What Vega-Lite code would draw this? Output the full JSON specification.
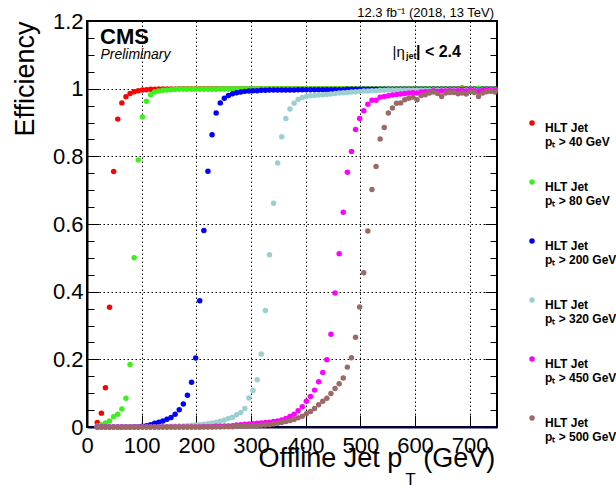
{
"$schema":"https://vega.github.io/schema/vega-lite/v6.json",
"width":410,"height":406,
"autosize":{"type":"none"},
"padding":{"left":87,"top":21,"right":119,"bottom":58},
"background":"white",
"config":{"view":{"stroke":"black","strokeWidth":2},"font":"Liberation Sans"},
"datasets":{"pts":[
{"s":"40","x":18.75,"y":0.013},{"s":"40","x":26.25,"y":0.041},{"s":"40","x":33.75,"y":0.116},{"s":"40","x":41.25,"y":0.354},{"s":"40","x":48.75,"y":0.755},{"s":"40","x":56.25,"y":0.91},{"s":"40","x":63.75,"y":0.958},{"s":"40","x":71.25,"y":0.976},{"s":"40","x":78.75,"y":0.986},{"s":"40","x":86.25,"y":0.991},{"s":"40","x":93.75,"y":0.994},{"s":"40","x":101.25,"y":0.996},{"s":"40","x":108.75,"y":0.997},{"s":"40","x":116.25,"y":0.998},{"s":"40","x":123.75,"y":0.998},{"s":"40","x":131.25,"y":0.999},{"s":"40","x":138.75,"y":0.999},{"s":"40","x":146.25,"y":0.999},{"s":"40","x":153.75,"y":0.999},{"s":"40","x":161.25,"y":0.999},{"s":"40","x":168.75,"y":1},{"s":"40","x":176.25,"y":1},{"s":"40","x":183.75,"y":1},{"s":"40","x":191.25,"y":1},{"s":"40","x":198.75,"y":1},{"s":"40","x":206.25,"y":1},{"s":"40","x":213.75,"y":1},{"s":"40","x":221.25,"y":1},{"s":"40","x":228.75,"y":1},{"s":"40","x":236.25,"y":1},{"s":"40","x":243.75,"y":1},{"s":"40","x":251.25,"y":1},{"s":"40","x":258.75,"y":1},{"s":"40","x":266.25,"y":1},{"s":"40","x":273.75,"y":1},{"s":"40","x":281.25,"y":1},{"s":"40","x":288.75,"y":1},{"s":"40","x":296.25,"y":1},{"s":"40","x":303.75,"y":1},{"s":"40","x":311.25,"y":1},{"s":"40","x":318.75,"y":1},{"s":"40","x":326.25,"y":1},{"s":"40","x":333.75,"y":1},{"s":"40","x":341.25,"y":1},{"s":"40","x":348.75,"y":1},{"s":"40","x":356.25,"y":1},{"s":"40","x":363.75,"y":1},{"s":"40","x":371.25,"y":1},{"s":"40","x":378.75,"y":1},{"s":"40","x":386.25,"y":1},{"s":"40","x":393.75,"y":1},{"s":"40","x":401.25,"y":1},{"s":"40","x":408.75,"y":1},{"s":"40","x":416.25,"y":1},{"s":"40","x":423.75,"y":1},{"s":"40","x":431.25,"y":1},{"s":"40","x":438.75,"y":1},{"s":"40","x":446.25,"y":1},{"s":"40","x":453.75,"y":1},{"s":"40","x":461.25,"y":1},{"s":"40","x":468.75,"y":1},{"s":"40","x":476.25,"y":1},{"s":"40","x":483.75,"y":1},{"s":"40","x":491.25,"y":1},{"s":"40","x":498.75,"y":1},{"s":"40","x":506.25,"y":1},{"s":"40","x":513.75,"y":1},{"s":"40","x":521.25,"y":1},{"s":"40","x":528.75,"y":1},{"s":"40","x":536.25,"y":1},{"s":"40","x":543.75,"y":1},{"s":"40","x":551.25,"y":1},{"s":"40","x":558.75,"y":1},{"s":"40","x":566.25,"y":1},{"s":"40","x":573.75,"y":1},{"s":"40","x":581.25,"y":1},{"s":"40","x":588.75,"y":1},{"s":"40","x":596.25,"y":1},{"s":"40","x":603.75,"y":1},{"s":"40","x":611.25,"y":1},{"s":"40","x":618.75,"y":1},{"s":"40","x":626.25,"y":1},{"s":"40","x":633.75,"y":1},{"s":"40","x":641.25,"y":1},{"s":"40","x":648.75,"y":1},{"s":"40","x":656.25,"y":1},{"s":"40","x":663.75,"y":1},{"s":"40","x":671.25,"y":1},{"s":"40","x":678.75,"y":1},{"s":"40","x":686.25,"y":1.002},{"s":"40","x":693.75,"y":1},{"s":"40","x":701.25,"y":1},{"s":"40","x":708.75,"y":1},{"s":"40","x":716.25,"y":1},{"s":"40","x":723.75,"y":1},{"s":"40","x":731.25,"y":1},{"s":"40","x":738.75,"y":1},{"s":"40","x":746.25,"y":1},
{"s":"80","x":18.75,"y":0.003},{"s":"80","x":26.25,"y":0.007},{"s":"80","x":33.75,"y":0.012},{"s":"80","x":41.25,"y":0.018},{"s":"80","x":48.75,"y":0.03},{"s":"80","x":56.25,"y":0.038},{"s":"80","x":63.75,"y":0.053},{"s":"80","x":71.25,"y":0.085},{"s":"80","x":78.75,"y":0.185},{"s":"80","x":86.25,"y":0.5},{"s":"80","x":93.75,"y":0.789},{"s":"80","x":101.25,"y":0.916},{"s":"80","x":108.75,"y":0.963},{"s":"80","x":116.25,"y":0.982},{"s":"80","x":123.75,"y":0.99},{"s":"80","x":131.25,"y":0.993},{"s":"80","x":138.75,"y":0.995},{"s":"80","x":146.25,"y":0.996},{"s":"80","x":153.75,"y":0.997},{"s":"80","x":161.25,"y":0.998},{"s":"80","x":168.75,"y":0.999},{"s":"80","x":176.25,"y":0.999},{"s":"80","x":183.75,"y":0.999},{"s":"80","x":191.25,"y":0.999},{"s":"80","x":198.75,"y":0.999},{"s":"80","x":206.25,"y":0.999},{"s":"80","x":213.75,"y":0.999},{"s":"80","x":221.25,"y":0.999},{"s":"80","x":228.75,"y":0.999},{"s":"80","x":236.25,"y":0.999},{"s":"80","x":243.75,"y":1},{"s":"80","x":251.25,"y":1},{"s":"80","x":258.75,"y":1},{"s":"80","x":266.25,"y":1},{"s":"80","x":273.75,"y":1},{"s":"80","x":281.25,"y":1},{"s":"80","x":288.75,"y":1},{"s":"80","x":296.25,"y":1},{"s":"80","x":303.75,"y":1},{"s":"80","x":311.25,"y":1},{"s":"80","x":318.75,"y":1},{"s":"80","x":326.25,"y":1},{"s":"80","x":333.75,"y":1},{"s":"80","x":341.25,"y":1},{"s":"80","x":348.75,"y":1},{"s":"80","x":356.25,"y":1},{"s":"80","x":363.75,"y":1},{"s":"80","x":371.25,"y":1},{"s":"80","x":378.75,"y":1},{"s":"80","x":386.25,"y":1},{"s":"80","x":393.75,"y":1},{"s":"80","x":401.25,"y":1},{"s":"80","x":408.75,"y":1},{"s":"80","x":416.25,"y":1},{"s":"80","x":423.75,"y":1},{"s":"80","x":431.25,"y":1},{"s":"80","x":438.75,"y":1},{"s":"80","x":446.25,"y":1},{"s":"80","x":453.75,"y":1},{"s":"80","x":461.25,"y":1},{"s":"80","x":468.75,"y":1},{"s":"80","x":476.25,"y":1},{"s":"80","x":483.75,"y":1},{"s":"80","x":491.25,"y":1},{"s":"80","x":498.75,"y":1},{"s":"80","x":506.25,"y":1},{"s":"80","x":513.75,"y":1},{"s":"80","x":521.25,"y":1},{"s":"80","x":528.75,"y":1},{"s":"80","x":536.25,"y":1},{"s":"80","x":543.75,"y":1},{"s":"80","x":551.25,"y":1},{"s":"80","x":558.75,"y":1},{"s":"80","x":566.25,"y":1},{"s":"80","x":573.75,"y":1},{"s":"80","x":581.25,"y":1},{"s":"80","x":588.75,"y":1},{"s":"80","x":596.25,"y":1},{"s":"80","x":603.75,"y":1},{"s":"80","x":611.25,"y":1},{"s":"80","x":618.75,"y":1},{"s":"80","x":626.25,"y":1},{"s":"80","x":633.75,"y":1},{"s":"80","x":641.25,"y":1},{"s":"80","x":648.75,"y":1},{"s":"80","x":656.25,"y":1},{"s":"80","x":663.75,"y":1},{"s":"80","x":671.25,"y":1},{"s":"80","x":678.75,"y":1},{"s":"80","x":686.25,"y":1},{"s":"80","x":693.75,"y":1},{"s":"80","x":701.25,"y":1},{"s":"80","x":708.75,"y":1},{"s":"80","x":716.25,"y":1.001},{"s":"80","x":723.75,"y":1},{"s":"80","x":731.25,"y":1},{"s":"80","x":738.75,"y":1},{"s":"80","x":746.25,"y":1},
{"s":"200","x":18.75,"y":0},{"s":"200","x":26.25,"y":0},{"s":"200","x":33.75,"y":0},{"s":"200","x":41.25,"y":0},{"s":"200","x":48.75,"y":0},{"s":"200","x":56.25,"y":0},{"s":"200","x":63.75,"y":0},{"s":"200","x":71.25,"y":0},{"s":"200","x":78.75,"y":0},{"s":"200","x":86.25,"y":0.001},{"s":"200","x":93.75,"y":0.001},{"s":"200","x":101.25,"y":0.002},{"s":"200","x":108.75,"y":0.004},{"s":"200","x":116.25,"y":0.007},{"s":"200","x":123.75,"y":0.011},{"s":"200","x":131.25,"y":0.014},{"s":"200","x":138.75,"y":0.018},{"s":"200","x":146.25,"y":0.023},{"s":"200","x":153.75,"y":0.028},{"s":"200","x":161.25,"y":0.038},{"s":"200","x":168.75,"y":0.051},{"s":"200","x":176.25,"y":0.068},{"s":"200","x":183.75,"y":0.094},{"s":"200","x":191.25,"y":0.132},{"s":"200","x":198.75,"y":0.204},{"s":"200","x":206.25,"y":0.373},{"s":"200","x":213.75,"y":0.581},{"s":"200","x":221.25,"y":0.756},{"s":"200","x":228.75,"y":0.864},{"s":"200","x":236.25,"y":0.928},{"s":"200","x":243.75,"y":0.958},{"s":"200","x":251.25,"y":0.972},{"s":"200","x":258.75,"y":0.98},{"s":"200","x":266.25,"y":0.985},{"s":"200","x":273.75,"y":0.988},{"s":"200","x":281.25,"y":0.99},{"s":"200","x":288.75,"y":0.992},{"s":"200","x":296.25,"y":0.993},{"s":"200","x":303.75,"y":0.994},{"s":"200","x":311.25,"y":0.994},{"s":"200","x":318.75,"y":0.995},{"s":"200","x":326.25,"y":0.995},{"s":"200","x":333.75,"y":0.996},{"s":"200","x":341.25,"y":0.996},{"s":"200","x":348.75,"y":0.996},{"s":"200","x":356.25,"y":0.996},{"s":"200","x":363.75,"y":0.996},{"s":"200","x":371.25,"y":0.996},{"s":"200","x":378.75,"y":0.996},{"s":"200","x":386.25,"y":0.997},{"s":"200","x":393.75,"y":0.997},{"s":"200","x":401.25,"y":0.997},{"s":"200","x":408.75,"y":0.997},{"s":"200","x":416.25,"y":0.997},{"s":"200","x":423.75,"y":0.997},{"s":"200","x":431.25,"y":0.997},{"s":"200","x":438.75,"y":0.997},{"s":"200","x":446.25,"y":0.997},{"s":"200","x":453.75,"y":0.997},{"s":"200","x":461.25,"y":0.997},{"s":"200","x":468.75,"y":0.997},{"s":"200","x":476.25,"y":0.998},{"s":"200","x":483.75,"y":0.998},{"s":"200","x":491.25,"y":0.998},{"s":"200","x":498.75,"y":0.998},{"s":"200","x":506.25,"y":0.998},{"s":"200","x":513.75,"y":0.998},{"s":"200","x":521.25,"y":0.998},{"s":"200","x":528.75,"y":0.998},{"s":"200","x":536.25,"y":0.998},{"s":"200","x":543.75,"y":0.998},{"s":"200","x":551.25,"y":0.998},{"s":"200","x":558.75,"y":0.998},{"s":"200","x":566.25,"y":0.998},{"s":"200","x":573.75,"y":0.998},{"s":"200","x":581.25,"y":0.998},{"s":"200","x":588.75,"y":0.998},{"s":"200","x":596.25,"y":0.998},{"s":"200","x":603.75,"y":0.998},{"s":"200","x":611.25,"y":0.998},{"s":"200","x":618.75,"y":0.998},{"s":"200","x":626.25,"y":0.998},{"s":"200","x":633.75,"y":0.998},{"s":"200","x":641.25,"y":0.998},{"s":"200","x":648.75,"y":0.998},{"s":"200","x":656.25,"y":0.998},{"s":"200","x":663.75,"y":0.998},{"s":"200","x":671.25,"y":0.998},{"s":"200","x":678.75,"y":0.998},{"s":"200","x":686.25,"y":0.996},{"s":"200","x":693.75,"y":0.998},{"s":"200","x":701.25,"y":0.998},{"s":"200","x":708.75,"y":0.998},{"s":"200","x":716.25,"y":0.995},{"s":"200","x":723.75,"y":0.998},{"s":"200","x":731.25,"y":0.998},{"s":"200","x":738.75,"y":0.998},{"s":"200","x":746.25,"y":0.998},
{"s":"320","x":18.75,"y":0},{"s":"320","x":26.25,"y":0},{"s":"320","x":33.75,"y":0},{"s":"320","x":41.25,"y":0},{"s":"320","x":48.75,"y":0},{"s":"320","x":56.25,"y":0},{"s":"320","x":63.75,"y":0},{"s":"320","x":71.25,"y":0},{"s":"320","x":78.75,"y":0},{"s":"320","x":86.25,"y":0},{"s":"320","x":93.75,"y":0},{"s":"320","x":101.25,"y":0},{"s":"320","x":108.75,"y":0},{"s":"320","x":116.25,"y":0},{"s":"320","x":123.75,"y":0},{"s":"320","x":131.25,"y":0},{"s":"320","x":138.75,"y":0.001},{"s":"320","x":146.25,"y":0.001},{"s":"320","x":153.75,"y":0.002},{"s":"320","x":161.25,"y":0.002},{"s":"320","x":168.75,"y":0.003},{"s":"320","x":176.25,"y":0.003},{"s":"320","x":183.75,"y":0.004},{"s":"320","x":191.25,"y":0.005},{"s":"320","x":198.75,"y":0.006},{"s":"320","x":206.25,"y":0.007},{"s":"320","x":213.75,"y":0.008},{"s":"320","x":221.25,"y":0.01},{"s":"320","x":228.75,"y":0.012},{"s":"320","x":236.25,"y":0.014},{"s":"320","x":243.75,"y":0.017},{"s":"320","x":251.25,"y":0.021},{"s":"320","x":258.75,"y":0.025},{"s":"320","x":266.25,"y":0.029},{"s":"320","x":273.75,"y":0.036},{"s":"320","x":281.25,"y":0.043},{"s":"320","x":288.75,"y":0.055},{"s":"320","x":296.25,"y":0.086},{"s":"320","x":303.75,"y":0.108},{"s":"320","x":311.25,"y":0.14},{"s":"320","x":318.75,"y":0.216},{"s":"320","x":326.25,"y":0.344},{"s":"320","x":333.75,"y":0.509},{"s":"320","x":341.25,"y":0.661},{"s":"320","x":348.75,"y":0.78},{"s":"320","x":356.25,"y":0.858},{"s":"320","x":363.75,"y":0.912},{"s":"320","x":371.25,"y":0.94},{"s":"320","x":378.75,"y":0.957},{"s":"320","x":386.25,"y":0.968},{"s":"320","x":393.75,"y":0.974},{"s":"320","x":401.25,"y":0.977},{"s":"320","x":408.75,"y":0.979},{"s":"320","x":416.25,"y":0.98},{"s":"320","x":423.75,"y":0.981},{"s":"320","x":431.25,"y":0.982},{"s":"320","x":438.75,"y":0.983},{"s":"320","x":446.25,"y":0.984},{"s":"320","x":453.75,"y":0.986},{"s":"320","x":461.25,"y":0.987},{"s":"320","x":468.75,"y":0.988},{"s":"320","x":476.25,"y":0.989},{"s":"320","x":483.75,"y":0.99},{"s":"320","x":491.25,"y":0.991},{"s":"320","x":498.75,"y":0.992},{"s":"320","x":506.25,"y":0.993},{"s":"320","x":513.75,"y":0.993},{"s":"320","x":521.25,"y":0.994},{"s":"320","x":528.75,"y":0.994},{"s":"320","x":536.25,"y":0.995},{"s":"320","x":543.75,"y":0.995},{"s":"320","x":551.25,"y":0.996},{"s":"320","x":558.75,"y":0.996},{"s":"320","x":566.25,"y":0.996},{"s":"320","x":573.75,"y":0.996},{"s":"320","x":581.25,"y":0.996},{"s":"320","x":588.75,"y":0.996},{"s":"320","x":596.25,"y":0.996},{"s":"320","x":603.75,"y":0.996},{"s":"320","x":611.25,"y":0.996},{"s":"320","x":618.75,"y":0.996},{"s":"320","x":626.25,"y":0.996},{"s":"320","x":633.75,"y":0.996},{"s":"320","x":641.25,"y":0.996},{"s":"320","x":648.75,"y":0.996},{"s":"320","x":656.25,"y":0.996},{"s":"320","x":663.75,"y":0.996},{"s":"320","x":671.25,"y":0.996},{"s":"320","x":678.75,"y":0.996},{"s":"320","x":686.25,"y":0.994},{"s":"320","x":693.75,"y":0.996},{"s":"320","x":701.25,"y":0.996},{"s":"320","x":708.75,"y":0.996},{"s":"320","x":716.25,"y":0.993},{"s":"320","x":723.75,"y":0.996},{"s":"320","x":731.25,"y":0.996},{"s":"320","x":738.75,"y":0.996},{"s":"320","x":746.25,"y":0.996},
{"s":"450","x":18.75,"y":0},{"s":"450","x":26.25,"y":0},{"s":"450","x":33.75,"y":0},{"s":"450","x":41.25,"y":0},{"s":"450","x":48.75,"y":0},{"s":"450","x":56.25,"y":0},{"s":"450","x":63.75,"y":0},{"s":"450","x":71.25,"y":0},{"s":"450","x":78.75,"y":0},{"s":"450","x":86.25,"y":0},{"s":"450","x":93.75,"y":0},{"s":"450","x":101.25,"y":0},{"s":"450","x":108.75,"y":0},{"s":"450","x":116.25,"y":0},{"s":"450","x":123.75,"y":0},{"s":"450","x":131.25,"y":0},{"s":"450","x":138.75,"y":0},{"s":"450","x":146.25,"y":0},{"s":"450","x":153.75,"y":0},{"s":"450","x":161.25,"y":0},{"s":"450","x":168.75,"y":0},{"s":"450","x":176.25,"y":0},{"s":"450","x":183.75,"y":0},{"s":"450","x":191.25,"y":0},{"s":"450","x":198.75,"y":0},{"s":"450","x":206.25,"y":0},{"s":"450","x":213.75,"y":0.001},{"s":"450","x":221.25,"y":0.001},{"s":"450","x":228.75,"y":0.001},{"s":"450","x":236.25,"y":0.002},{"s":"450","x":243.75,"y":0.002},{"s":"450","x":251.25,"y":0.003},{"s":"450","x":258.75,"y":0.003},{"s":"450","x":266.25,"y":0.004},{"s":"450","x":273.75,"y":0.006},{"s":"450","x":281.25,"y":0.007},{"s":"450","x":288.75,"y":0.008},{"s":"450","x":296.25,"y":0.009},{"s":"450","x":303.75,"y":0.01},{"s":"450","x":311.25,"y":0.011},{"s":"450","x":318.75,"y":0.012},{"s":"450","x":326.25,"y":0.013},{"s":"450","x":333.75,"y":0.014},{"s":"450","x":341.25,"y":0.016},{"s":"450","x":348.75,"y":0.018},{"s":"450","x":356.25,"y":0.021},{"s":"450","x":363.75,"y":0.025},{"s":"450","x":371.25,"y":0.031},{"s":"450","x":378.75,"y":0.038},{"s":"450","x":386.25,"y":0.048},{"s":"450","x":393.75,"y":0.06},{"s":"450","x":401.25,"y":0.076},{"s":"450","x":408.75,"y":0.09},{"s":"450","x":416.25,"y":0.109},{"s":"450","x":423.75,"y":0.134},{"s":"450","x":431.25,"y":0.161},{"s":"450","x":438.75,"y":0.199},{"s":"450","x":446.25,"y":0.274},{"s":"450","x":453.75,"y":0.396},{"s":"450","x":461.25,"y":0.512},{"s":"450","x":468.75,"y":0.635},{"s":"450","x":476.25,"y":0.753},{"s":"450","x":483.75,"y":0.814},{"s":"450","x":491.25,"y":0.879},{"s":"450","x":498.75,"y":0.912},{"s":"450","x":506.25,"y":0.935},{"s":"450","x":513.75,"y":0.954},{"s":"450","x":521.25,"y":0.966},{"s":"450","x":528.75,"y":0.966},{"s":"450","x":536.25,"y":0.975},{"s":"450","x":543.75,"y":0.977},{"s":"450","x":551.25,"y":0.979},{"s":"450","x":558.75,"y":0.981},{"s":"450","x":566.25,"y":0.983},{"s":"450","x":573.75,"y":0.984},{"s":"450","x":581.25,"y":0.986},{"s":"450","x":588.75,"y":0.987},{"s":"450","x":596.25,"y":0.988},{"s":"450","x":603.75,"y":0.987},{"s":"450","x":611.25,"y":0.99},{"s":"450","x":618.75,"y":0.991},{"s":"450","x":626.25,"y":0.991},{"s":"450","x":633.75,"y":0.994},{"s":"450","x":641.25,"y":0.992},{"s":"450","x":648.75,"y":0.993},{"s":"450","x":656.25,"y":0.993},{"s":"450","x":663.75,"y":0.994},{"s":"450","x":671.25,"y":0.993},{"s":"450","x":678.75,"y":0.994},{"s":"450","x":686.25,"y":0.994},{"s":"450","x":693.75,"y":0.993},{"s":"450","x":701.25,"y":0.995},{"s":"450","x":708.75,"y":0.994},{"s":"450","x":716.25,"y":0.992},{"s":"450","x":723.75,"y":0.995},{"s":"450","x":731.25,"y":0.995},{"s":"450","x":738.75,"y":0.994},{"s":"450","x":746.25,"y":0.995},
{"s":"500","x":18.75,"y":0},{"s":"500","x":26.25,"y":0},{"s":"500","x":33.75,"y":0},{"s":"500","x":41.25,"y":0},{"s":"500","x":48.75,"y":0},{"s":"500","x":56.25,"y":0},{"s":"500","x":63.75,"y":0},{"s":"500","x":71.25,"y":0},{"s":"500","x":78.75,"y":0},{"s":"500","x":86.25,"y":0},{"s":"500","x":93.75,"y":0},{"s":"500","x":101.25,"y":0},{"s":"500","x":108.75,"y":0},{"s":"500","x":116.25,"y":0},{"s":"500","x":123.75,"y":0},{"s":"500","x":131.25,"y":0},{"s":"500","x":138.75,"y":0},{"s":"500","x":146.25,"y":0},{"s":"500","x":153.75,"y":0},{"s":"500","x":161.25,"y":0},{"s":"500","x":168.75,"y":0},{"s":"500","x":176.25,"y":0},{"s":"500","x":183.75,"y":0},{"s":"500","x":191.25,"y":0},{"s":"500","x":198.75,"y":0},{"s":"500","x":206.25,"y":0},{"s":"500","x":213.75,"y":0},{"s":"500","x":221.25,"y":0},{"s":"500","x":228.75,"y":0},{"s":"500","x":236.25,"y":0},{"s":"500","x":243.75,"y":0},{"s":"500","x":251.25,"y":0.001},{"s":"500","x":258.75,"y":0.001},{"s":"500","x":266.25,"y":0.001},{"s":"500","x":273.75,"y":0.002},{"s":"500","x":281.25,"y":0.002},{"s":"500","x":288.75,"y":0.003},{"s":"500","x":296.25,"y":0.003},{"s":"500","x":303.75,"y":0.004},{"s":"500","x":311.25,"y":0.004},{"s":"500","x":318.75,"y":0.005},{"s":"500","x":326.25,"y":0.006},{"s":"500","x":333.75,"y":0.007},{"s":"500","x":341.25,"y":0.009},{"s":"500","x":348.75,"y":0.011},{"s":"500","x":356.25,"y":0.013},{"s":"500","x":363.75,"y":0.016},{"s":"500","x":371.25,"y":0.019},{"s":"500","x":378.75,"y":0.022},{"s":"500","x":386.25,"y":0.027},{"s":"500","x":393.75,"y":0.032},{"s":"500","x":401.25,"y":0.039},{"s":"500","x":408.75,"y":0.046},{"s":"500","x":416.25,"y":0.055},{"s":"500","x":423.75,"y":0.066},{"s":"500","x":431.25,"y":0.076},{"s":"500","x":438.75,"y":0.085},{"s":"500","x":446.25,"y":0.099},{"s":"500","x":453.75,"y":0.114},{"s":"500","x":461.25,"y":0.128},{"s":"500","x":468.75,"y":0.145},{"s":"500","x":476.25,"y":0.177},{"s":"500","x":483.75,"y":0.205},{"s":"500","x":491.25,"y":0.265},{"s":"500","x":498.75,"y":0.355},{"s":"500","x":506.25,"y":0.456},{"s":"500","x":513.75,"y":0.579},{"s":"500","x":521.25,"y":0.702},{"s":"500","x":528.75,"y":0.77},{"s":"500","x":536.25,"y":0.851},{"s":"500","x":543.75,"y":0.885},{"s":"500","x":551.25,"y":0.928},{"s":"500","x":558.75,"y":0.943},{"s":"500","x":566.25,"y":0.957},{"s":"500","x":573.75,"y":0.958},{"s":"500","x":581.25,"y":0.967},{"s":"500","x":588.75,"y":0.972},{"s":"500","x":596.25,"y":0.975},{"s":"500","x":603.75,"y":0.967},{"s":"500","x":611.25,"y":0.98},{"s":"500","x":618.75,"y":0.982},{"s":"500","x":626.25,"y":0.987},{"s":"500","x":633.75,"y":0.99},{"s":"500","x":641.25,"y":0.986},{"s":"500","x":648.75,"y":0.977},{"s":"500","x":656.25,"y":0.987},{"s":"500","x":663.75,"y":0.989},{"s":"500","x":671.25,"y":0.989},{"s":"500","x":678.75,"y":0.985},{"s":"500","x":686.25,"y":0.987},{"s":"500","x":693.75,"y":0.984},{"s":"500","x":701.25,"y":0.991},{"s":"500","x":708.75,"y":0.989},{"s":"500","x":716.25,"y":0.977},{"s":"500","x":723.75,"y":0.987},{"s":"500","x":731.25,"y":0.991},{"s":"500","x":738.75,"y":0.992},{"s":"500","x":746.25,"y":0.99}
]},
"layer":[
{"data":{"name":"pts"},
 "mark":{"type":"point","filled":true,"size":30,"opacity":1,"strokeWidth":0},
 "encoding":{
  "x":{"field":"x","type":"quantitative","scale":{"domain":[0,750],"nice":false,"zero":false},
   "axis":{"values":[0,100,200,300,400,500,600,700],"title":null,"tickSize":-12,"tickColor":"black","tickWidth":1,"labelFontSize":22,"labelFont":"Liberation Sans","labelColor":"black","labelBaseline":"alphabetic","labelPadding":37,"labelFlush":false,"grid":true,"gridDash":[1.5,2.5],"gridColor":"black","gridOpacity":1,"gridWidth":1,"domainColor":"#000050","domainWidth":2}},
  "y":{"field":"y","type":"quantitative","scale":{"domain":[0,1.2],"nice":false,"zero":false},
   "axis":{"orient":"left","offset":0,"values":[0,0.2,0.4,0.6,0.8,1,1.2],"format":"~g",
    "grid":true,"gridDash":[1.5,2.5],"gridColor":"black","gridWidth":1,"gridOpacity":1,
    "tickSize":-12,"tickColor":"black","tickWidth":1,"labelFontSize":22,"labelFont":"Liberation Sans","labelColor":"black","labelPadding":16,"labelFlush":false,"labelOverlap":false,
    "domainColor":"black","domainWidth":2,
    "title":"Efficiency","titleFont":"Liberation Sans","titleFontSize":27,"titleFontWeight":"normal","titleColor":"black","titleAngle":270,"titleAlign":"right","titleBaseline":"alphabetic","titleX":-54,"titleY":0}},
  "color":{"field":"s","type":"nominal","sort":["40","80","200","320","450","500"],
   "scale":{"domain":["40","80","200","320","450","500"],"range":["#ff0000","#3cf01c","#0000ff","#9ccfcf","#ff00ff","#9b6a66"]},
   "legend":{"orient":"none","legendX":439,"legendY":96,"title":null,"symbolType":"circle","symbolSize":30,"symbolStrokeWidth":0,"labelFont":"Liberation Sans","labelFontWeight":"bold","labelFontSize":12,"labelColor":"black","labelOffset":7,"rowPadding":28,"labelLimit":300,"labelBaseline":"top","labelExpr":"['HLT Jet', 'p\u209c > ' + datum.label + ' GeV']"}}
 }},
{"data":{"name":"pts"},
 "mark":{"type":"point","opacity":0},
 "encoding":{
  "x":{"field":"x","type":"quantitative","scale":{"domain":[0,750],"nice":false,"zero":false}},
  "y":{"field":"y","type":"quantitative","scale":{"domain":[0,1.2],"nice":false,"zero":false},
   "axis":{"orient":"right","offset":0,"values":[0,0.2,0.4,0.6,0.8,1,1.2],"labels":false,"domain":false,"grid":false,"title":null,"tickColor":"black","tickWidth":1,"tickSize":-12}}
 }},
{"data":{"name":"pts"},
 "mark":{"type":"point","opacity":0},
 "encoding":{
  "x":{"field":"x","type":"quantitative","scale":{"domain":[0,750],"nice":false,"zero":false}},
  "y":{"field":"y","type":"quantitative","scale":{"domain":[0,1.2],"nice":false,"zero":false},
   "axis":{"orient":"left","offset":0,"values":[0.05,0.1,0.15,0.25,0.3,0.35,0.45,0.5,0.55,0.65,0.7,0.75,0.85,0.9,0.95,1.05,1.1,1.15],"labels":false,"domain":false,"grid":false,"title":null,"tickColor":"black","tickWidth":1,"tickSize":-7}}
 }},
{"data":{"name":"pts"},
 "mark":{"type":"point","opacity":0},
 "encoding":{
  "x":{"field":"x","type":"quantitative","scale":{"domain":[0,750],"nice":false,"zero":false}},
  "y":{"field":"y","type":"quantitative","scale":{"domain":[0,1.2],"nice":false,"zero":false},
   "axis":{"orient":"right","offset":0,"values":[0.05,0.1,0.15,0.25,0.3,0.35,0.45,0.5,0.55,0.65,0.7,0.75,0.85,0.9,0.95,1.05,1.1,1.15],"labels":false,"domain":false,"grid":false,"title":null,"tickColor":"black","tickWidth":1,"tickSize":-7}}
 }},
{"data":{"values":[{}]},
 "mark":{"type":"text","text":"12.3 fb⁻¹ (2018, 13 TeV)","font":"Liberation Sans","fontSize":13,"align":"right","baseline":"alphabetic","color":"black","dx":-3,"dy":-4},
 "encoding":{"x":{"datum":750,"type":"quantitative"},"y":{"datum":1.2,"type":"quantitative","axis":null}}},
{"data":{"values":[{}]},
 "mark":{"type":"text","text":"CMS","font":"Liberation Sans","fontWeight":"bold","fontSize":22,"align":"left","baseline":"alphabetic","color":"black"},
 "encoding":{"x":{"datum":23.8,"type":"quantitative"},"y":{"datum":1.132,"type":"quantitative","axis":null}}},
{"data":{"values":[{}]},
 "mark":{"type":"text","text":"Preliminary","font":"Liberation Sans","fontStyle":"italic","fontSize":14,"align":"left","baseline":"alphabetic","color":"black"},
 "encoding":{"x":{"datum":24.5,"type":"quantitative"},"y":{"datum":1.088,"type":"quantitative","axis":null}}},
{"data":{"values":[{}]},
 "mark":{"type":"text","text":"|η","font":"Liberation Sans","fontSize":15,"align":"left","baseline":"alphabetic","color":"black"},
 "encoding":{"x":{"datum":558.9,"type":"quantitative"},"y":{"datum":1.0946,"type":"quantitative","axis":null}}},
{"data":{"values":[{}]},
 "mark":{"type":"text","text":"jet","font":"Liberation Sans","fontWeight":"bold","fontSize":9,"align":"left","baseline":"alphabetic","color":"black"},
 "encoding":{"x":{"datum":583.5,"type":"quantitative"},"y":{"datum":1.0868,"type":"quantitative","axis":null}}},
{"data":{"values":[{}]},
 "mark":{"type":"text","text":"| < 2.4","font":"Liberation Sans","fontWeight":"bold","fontSize":16,"align":"left","baseline":"alphabetic","color":"black"},
 "encoding":{"x":{"datum":601.8,"type":"quantitative"},"y":{"datum":1.0946,"type":"quantitative","axis":null}}},
{"data":{"values":[{}]},
 "mark":{"type":"text","text":"Offline Jet p","font":"Liberation Sans","fontSize":27,"align":"right","baseline":"alphabetic","color":"black","dy":40},
 "encoding":{"x":{"datum":576.6,"type":"quantitative"},"y":{"datum":0,"type":"quantitative","axis":null}}},
{"data":{"values":[{}]},
 "mark":{"type":"text","text":"T","font":"Liberation Sans","fontSize":17,"align":"left","baseline":"alphabetic","color":"black","dy":58},
 "encoding":{"x":{"datum":582,"type":"quantitative"},"y":{"datum":0,"type":"quantitative","axis":null}}},
{"data":{"values":[{}]},
 "mark":{"type":"text","text":"(GeV)","font":"Liberation Sans","fontSize":27,"align":"right","baseline":"alphabetic","color":"black","dy":40},
 "encoding":{"x":{"datum":746.8,"type":"quantitative"},"y":{"datum":0,"type":"quantitative","axis":null}}}
],
"resolve":{"axis":{"y":"independent"}}
}
